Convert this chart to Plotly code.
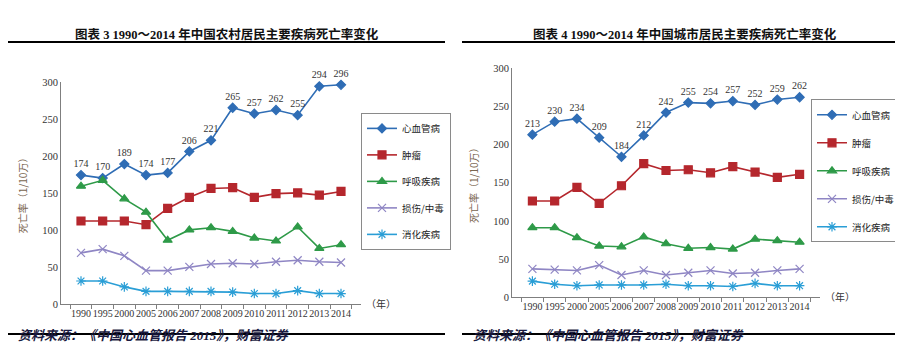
import plotly.graph_objects as go

years = ["1990", "1995", "2000", "2005", "2006", "2007", "2008", "2009", "2010", "2011", "2012", "2013", "2014"]
series_names = ["心血管病", "肿瘤", "呼吸疾病", "损伤/中毒", "消化疾病"]

# 农村 (rural)
rural_cardio = [174, 170, 189, 174, 177, 206, 221, 265, 257, 262, 255, 294, 296]
rural_tumor = [112, 112, 112, 107, 129, 144, 156, 157, 144, 149, 150, 147, 152]
rural_resp = [159, 167, 142, 124, 86, 100, 103, 98, 89, 85, 104, 75, 80]
rural_injury = [69, 74, 65, 45, 45, 50, 54, 55, 54, 57, 59, 57, 56]
rural_digest = [31, 31, 23, 17, 17, 17, 17, 16, 14, 14, 18, 14, 14]

# 城市 (urban)
urban_cardio = [213, 230, 234, 209, 184, 212, 242, 255, 254, 257, 252, 259, 262]
urban_tumor = [126, 126, 144, 123, 146, 175, 166, 167, 163, 171, 164, 157, 161]
urban_resp = [91, 91, 78, 67, 66, 79, 70, 64, 65, 63, 76, 74, 72]
urban_injury = [37, 36, 35, 42, 29, 35, 29, 32, 35, 31, 32, 35, 37]
urban_digest = [21, 17, 15, 16, 16, 16, 17, 15, 15, 14, 18, 15, 15]

titles = ["图表 3 1990～2014 年中国农村居民主要疾病死亡率变化",
          "图表 4 1990～2014 年中国城市居民主要疾病死亡率变化"]
source_text = "资料来源：《中国心血管报告 2015》，财富证券"
y_title = "死亡率（1/10万）"
x_unit = "（年）"

colors = ["#2F6DB5", "#B5272D", "#2E9A48", "#8F86C4", "#2A9ED6"]
symbols = ["diamond", "square", "triangle-up", "x-thin-open", "asterisk-open"]
sizes = [7, 8, 8, 8, 8]

W, H = 903, 364
SERIF = "Liberation Serif, Noto Sans CJK SC, serif"
CJK = "Noto Sans CJK SC, sans-serif"

fig = go.Figure()

panels = [
    dict(data=[rural_cardio, rural_tumor, rural_resp, rural_injury, rural_digest],
         xa="x", ya="y", legend="legend"),
    dict(data=[urban_cardio, urban_tumor, urban_resp, urban_injury, urban_digest],
         xa="x2", ya="y2", legend="legend2"),
]

for p in panels:
    for i, (name, vals) in enumerate(zip(series_names, p["data"])):
        is_cardio = (i == 0)
        fig.add_trace(go.Scatter(
            x=years, y=vals, name=name,
            xaxis=p["xa"], yaxis=p["ya"], legend=p["legend"],
            legendgroup=p["legend"] + str(i),
            mode="lines+markers+text" if is_cardio else "lines+markers",
            text=[str(v) for v in vals] if is_cardio else None,
            textposition="top center",
            textfont=dict(family=SERIF, size=10, color="#333333"),
            line=dict(color=colors[i], width=1.6),
            marker=dict(symbol=symbols[i], size=sizes[i], color=colors[i],
                        line=dict(color=colors[i], width=1.2)),
            cliponaxis=False,
        ))

def px_x(v):
    return v / W

def px_y(v):
    return 1 - v / H

axis_common = dict(
    showgrid=False, zeroline=False, showline=True, linecolor="#7f7f7f", linewidth=1,
)
xcommon = dict(axis_common, type="category", ticks="outside", tickson="boundaries",
               ticklen=4, tickcolor="#7f7f7f", tickangle=0,
               tickfont=dict(family=SERIF, size=10, color="#333333"))
ycommon = dict(axis_common, range=[0, 300], dtick=50, ticks="",
               tickfont=dict(family=SERIF, size=10.5, color="#333333"),
               title=dict(text=y_title, font=dict(family=CJK, size=10, color="#7a6650"), standoff=12))

legend_common = dict(xanchor="left", yanchor="top",
                     bordercolor="#8a8a8a", borderwidth=1, bgcolor="white",
                     font=dict(family=CJK, size=9.5, color="#222222"),
                     itemwidth=30)

fig.update_layout(
    width=W, height=H,
    margin=dict(l=0, r=0, t=0, b=0),
    paper_bgcolor="white", plot_bgcolor="white",
    xaxis=dict(xcommon, domain=[px_x(53), px_x(353)], anchor="y"),
    yaxis=dict(ycommon, domain=[px_y(300), px_y(71)], anchor="x"),
    xaxis2=dict(xcommon, domain=[px_x(504), px_x(812)], anchor="y2"),
    yaxis2=dict(ycommon, domain=[px_y(293), px_y(57)], anchor="x2"),
    legend=dict(legend_common, x=px_x(353), y=px_y(103), tracegroupgap=7.5),
    legend2=dict(legend_common, x=px_x(803), y=px_y(89), tracegroupgap=9),
    showlegend=True,
)

ann = []
ann.append(dict(text="<b>" + titles[0] + "</b>", x=px_x(219), y=px_y(12), xref="paper", yref="paper",
                xanchor="center", showarrow=False, font=dict(family=SERIF, size=12.5, color="#111111")))
ann.append(dict(text="<b>" + titles[1] + "</b>", x=px_x(677), y=px_y(12), xref="paper", yref="paper",
                xanchor="center", showarrow=False, font=dict(family=SERIF, size=12.5, color="#111111")))
for sx in [8, 463]:
    ann.append(dict(text="<b><i>" + source_text + "</i></b>", x=px_x(sx), y=px_y(342), xref="paper", yref="paper",
                    xanchor="left", showarrow=False, font=dict(family=SERIF, size=13, color="#1a1a40")))
ann.append(dict(text=x_unit, x=px_x(356), y=px_y(309), xref="paper", yref="paper", xanchor="left",
                showarrow=False, font=dict(family=CJK, size=10, color="#333333")))
ann.append(dict(text=x_unit, x=px_x(815), y=px_y(302), xref="paper", yref="paper", xanchor="left",
                showarrow=False, font=dict(family=CJK, size=10, color="#333333")))
fig.update_layout(annotations=ann)

shapes = []
for (x0, x1) in [(0, 437), (454, 898)]:
    for yy in [30, 331]:
        shapes.append(dict(type="line", xref="paper", yref="paper",
                           x0=px_x(x0), x1=px_x(x1), y0=px_y(yy), y1=px_y(yy),
                           line=dict(color="black", width=2)))
fig.update_layout(shapes=shapes)

fig.write_html("out.html")
